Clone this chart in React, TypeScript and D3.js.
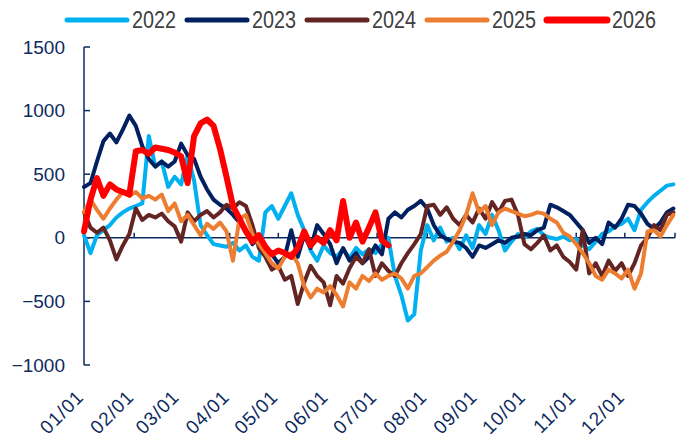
import * as d3 from "d3";

// values sampled every 4 days from 01/01
const STEP = 4;

const y2022 = [20, -120, 20, 60, 100, 160, 200, 230, 250, 270, 800, 560, 600, 400, 480, 420, 650, 450, 100, 20,
  -50, -60, -70, -40, -100, -60, -150, -180, 200, 250, 150, 250, 350, 180, 60, -100, -180, -60, -120, -150,
  -90, -160, -80, -130, -90, -120, -50, 0, -300, -450, -650, -600, -100, 100, -20, 80, -30, 0, -90, 20,
  -80, 100, 30, 180, 60, -100, -30, 30, 0, 50, 70, 20, 0, -10, 10, -20, -10, -60, -90, -30,
  30, 50, 90, 110, 150, 60, 220, 280, 330, 370, 410, 420];

const y2023 = [400, 430, 600, 760, 820, 750, 850, 960, 880, 720, 620, 560, 600, 560, 600, 740, 650, 620, 480, 380,
  300, 260, 230, 180, 120, 50, -50, 0, -100, -130, -200, -150, 60, -150, 20, -80, 100, 30, -50, -200,
  -80, -180, -120, -200, -150, -60, -130, 150, 200, 160, 220, 250, 290, 230, 100, 20, -10, -30, -40, -80,
  -150, -60, -80, -50, -20, -40, 0, 10, 30, 20, 60, 80, 260, 240, 210, 180, 120, 60, -40, 0,
  -50, 120, 80, 150, 260, 250, 190, 110, 70, 120, 200, 230];

const y2024 = [200, 80, 40, 80, -20, -170, -60, 30, 230, 140, 180, 160, 190, 130, 90, -30, 200, 130, 180, 210,
  160, 200, 260, 230, 280, 250, 100, -80, -150, -250, -220, -330, -300, -520, -350, -220, -300, -350, -530, -300,
  -360, -240, -150, -200, -90, -300, -200, -260, -300, -200, -120, -50, 30, 250, 260, 180, 240, 150, 100, 180,
  120, 230, 150, 280, 200, 290, 300, 180, -50, -90, -40, 20, -100, -60, -150, -190, -250, 60, -280, -200,
  -300, -180, -260, -200, -300, -200, -60, 0, 100, 60, 180, 200];

const y2025 = [200, 300, 220, 150, 230, 300, 360, 330, 360, 310, 330, 300, 340, 210, 270, 130, 180, 100, 20, 110,
  70, 120, 50, -180, 150, 180, 30, -50, -120, -200, -240, -150, -120, -200, -380, -470, -400, -430, -380, -450,
  -540, -350, -400, -300, -340, -280, -330, -300, -280, -320, -400, -300, -280, -230, -180, -140, -110, -30, 60, 180,
  350, 200, 250, 100, 200, 230, 210, 190, 170, 180, 200, 190, 150, 120, 40, 10, -50, -120, -200, -300,
  -330, -250, -280, -320, -250, -400, -280, 50, 60, 10, 100, 180];

const y2026 = [50, 300, 470, 330, 420, 380, 360, 340, 680, 690, 660, 710, 700, 690, 670, 640, 430, 800, 900, 930,
  880, 700, 480, 250, 150, 50, -30, 20, -70, -130, -100, -120, -150, -80, 50, -60, 0, -40, 60, -20,
  290, 0, 120, -30, 80, 200, -20, -60];

const years = ["2022", "2023", "2024", "2025", "2026"];
const colors = ["#00b0f0", "#002060", "#632523", "#ed7d31", "#ff0000"];
const seriesValues = [y2022, y2023, y2024, y2025, y2026];

const monthStarts = [0, 31, 59, 90, 120, 151, 181, 212, 243, 273, 304, 334];
const monthLabels = ["01/01", "02/01", "03/01", "04/01", "05/01", "06/01", "07/01", "08/01", "09/01", "10/01", "11/01", "12/01"];
const yTicks = [-1000, -500, 0, 500, 1000, 1500];

const W = 683;
const H = 442;
const AXIS = "#0d2a5e";

export default function App() {
  const x = d3.scaleLinear().domain([0, 365]).range([84, 675]);
  const y = d3.scaleLinear().domain([-1000, 1500]).range([365, 47]);

  const line = d3
    .line<number>()
    .x((_, i) => x(i * STEP))
    .y((d) => y(d));

  return (
    <svg
      width={W}
      height={H}
      viewBox={`0 0 ${W} ${H}`}
      style={{ position: "absolute", left: 0, top: 0, background: "#fff" }}
    >
      {/* y axis */}
      <line x1={x(0)} x2={x(0)} y1={y(-1000)} y2={y(1500)} stroke={AXIS} strokeWidth={1.5} />
      {yTicks.map((t) => (
        <g key={t}>
          <line x1={x(0)} x2={x(0) + 6} y1={y(t)} y2={y(t)} stroke={AXIS} strokeWidth={1.5} />
          <text
            x={65}
            y={y(t)}
            dy="0.35em"
            textAnchor="end"
            fontFamily="'Liberation Sans', Arial, sans-serif"
            fontSize={19}
            fill={AXIS}
          >
            {t < 0 ? `\u2212${Math.abs(t)}` : t}
          </text>
        </g>
      ))}

      {/* zero line with month ticks */}
      <line x1={x(0)} x2={x(365)} y1={y(0)} y2={y(0)} stroke={AXIS} strokeWidth={1.5} />
      {monthStarts.slice(1).concat([365]).map((d) => (
        <line key={d} x1={x(d)} x2={x(d)} y1={y(0)} y2={y(0) - 5} stroke={AXIS} strokeWidth={1.5} />
      ))}
      {monthStarts.map((d, i) => (
        <text
          key={d}
          transform={`translate(${x(d) + 1},${398}) rotate(-45)`}
          textAnchor="end"
          fontFamily="'Liberation Sans', Arial, sans-serif"
          fontSize={19}
          letterSpacing={1}
          fill={AXIS}
        >
          {monthLabels[i]}
        </text>
      ))}

      {/* series */}
      {seriesValues.map((vals, k) => (
        <path
          key={years[k]}
          d={line(vals) ?? ""}
          fill="none"
          stroke={colors[k]}
          strokeWidth={k === 4 ? 6 : 4}
          strokeLinejoin="round"
          strokeLinecap="round"
        />
      ))}

      {/* legend */}
      {years.map((yr, k) => (
        <g key={yr} transform={`translate(${67 + k * 120},20)`}>
          <line x1={0} x2={60} y1={0} y2={0} stroke={colors[k]} strokeWidth={k === 4 ? 7 : 5} strokeLinecap="round" />
          <text
            transform="translate(65,8) scale(0.86,1)"
            fontFamily="'Liberation Sans', Arial, sans-serif"
            fontSize={23}
            fill="#404040"
          >
            {yr}
          </text>
        </g>
      ))}
    </svg>
  );
}
